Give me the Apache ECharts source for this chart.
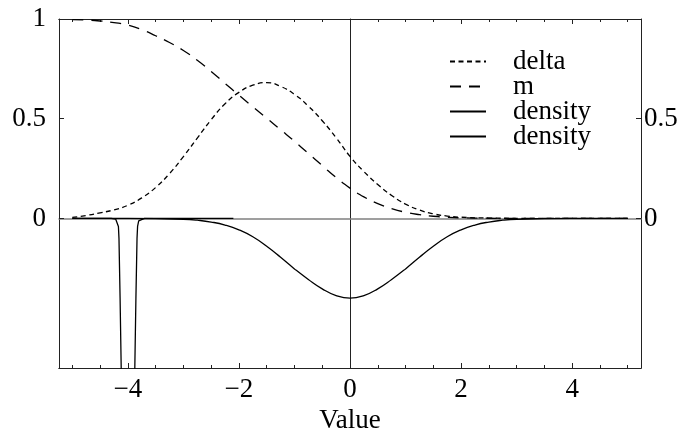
<!DOCTYPE html>
<html>
<head>
	<meta charset="utf-8">
	<title>Value</title>
	<script src="https://cdn.jsdelivr.net/npm/echarts@6/dist/echarts.min.js"></script>
	<style>
		html, body { margin: 0; padding: 0; background: #fff; }
		#main { width: 691px; height: 430px; }
	</style>
</head>
<body>
	<div id="main"></div>
</body>

<script type="text/javascript">
	// values
	var deltaX = [-5, -4.75, -4.5, -4.25, -4, -3.75, -3.5, -3.25, -3, -2.75, -2.5, -2.25, -2, -1.75, -1.5, -1.25, -1, -0.75, -0.5, -0.25, 0, 0.25, 0.5, 0.75, 1, 1.25, 1.5, 1.75, 2, 2.5, 3, 4, 5];
	var deltaY = [0.005, 0.015, 0.028, 0.043, 0.066, 0.103, 0.155, 0.225, 0.31, 0.403, 0.495, 0.575, 0.632, 0.668, 0.681, 0.662, 0.622, 0.563, 0.49, 0.405, 0.311, 0.235, 0.17, 0.115, 0.072, 0.042, 0.023, 0.012, 0.006, 0.002, 0.0005, 0, 0];

	var mX = [-5, -4.75, -4.5, -4.25, -4, -3.75, -3.5, -3.25, -3, -2.75, -2.5, -2.25, -2, -1.75, -1.5, -1.25, -1, -0.75, -0.5, -0.25, 0, 0.25, 0.5, 0.75, 1, 1.25, 1.5, 1.75, 2, 2.5, 3, 5];
	var mY = [0.997, 0.995, 0.99, 0.982, 0.97, 0.947, 0.916, 0.882, 0.842, 0.793, 0.737, 0.677, 0.618, 0.56, 0.503, 0.445, 0.387, 0.326, 0.265, 0.205, 0.152, 0.108, 0.074, 0.049, 0.031, 0.019, 0.011, 0.006, 0.003, 0.001, 0, 0];

	var densX = [-5, -4, -3.5, -3, -2.75, -2.5, -2.25, -2, -1.75, -1.5, -1.25, -1, -0.75, -0.5, -0.25, 0, 0.25, 0.5, 0.75, 1, 1.25, 1.5, 1.75, 2, 2.25, 2.5, 2.75, 3, 3.5, 4, 5];
	var densY = [0, 0, -0.001, -0.004, -0.009, -0.018, -0.033, -0.057, -0.092, -0.14, -0.195, -0.253, -0.306, -0.353, -0.387, -0.4, -0.387, -0.353, -0.306, -0.253, -0.195, -0.14, -0.092, -0.057, -0.033, -0.018, -0.009, -0.004, -0.001, 0, 0];

	var dens2X = [-5, -4.3, -4.22, -4.19, -4.17, -4.16, -4.14, -4.12, -4.11, -4.0, -3.88, -3.875, -3.855, -3.835, -3.825, -3.805, -3.775, -3.7, -2.1];
	var dens2Y = [0, 0, -0.003, -0.012, -0.04, -0.1, -0.4, -0.75, -1.0, -3.0, -1.0, -0.75, -0.4, -0.1, -0.04, -0.012, -0.003, 0, 0];

	var xLabels = [-4, -2, 0, 2, 4];
	var xMinor = [-5, -4.5, -4, -3.5, -3, -2.5, -2, -1.5, -1, -0.5, 0, 0.5, 1, 1.5, 2, 2.5, 3, 3.5, 4, 4.5, 5];
	var yLabelsLeft = [0, 0.5, 1];
	var yLabelsRight = [0, 0.5];

	var FONT = 'Liberation Serif';
	var FSIZE = 27;

	function pairs(xs, ys){
		var out = [];
		for (var i = 0; i < xs.length; i++) {
			out.push([xs[i], ys[i]]);
		}
		return out;
	}

	function fmt(v){
		return v < 0 ? '\u2212' + (-v) : String(v);
	}

	// frame axis helper
	function frameX(pos, ticks, len, labels){
		return {
			type: 'value', position: pos, min: -5.24, max: 5.24,
			axisLine: {show: true, onZero: false, lineStyle: {color: '#222', width: 1}},
			axisTick: {show: true, inside: true, length: len, customValues: ticks, lineStyle: {color: '#222'}},
			axisLabel: labels ? {show: true, customValues: labels, formatter: fmt, margin: 8, color: '#000', fontFamily: FONT, fontSize: FSIZE} : {show: false},
			splitLine: {show: false}
		};
	}

	var xAxes = [
		frameX('bottom', xLabels, 5, xLabels),
		frameX('bottom', xMinor, 3, null),
		frameX('top', xLabels, 5, null),
		frameX('top', xMinor, 3, null),
		// zero line
		{
			type: 'value', position: 'bottom', min: -5.24, max: 5.24,
			axisLine: {show: true, onZero: true, lineStyle: {color: '#808080', width: 1.5}},
			axisTick: {show: false}, axisLabel: {show: false}, splitLine: {show: false}
		}
	];
	xAxes[0].name = 'Value';
	xAxes[0].nameLocation = 'middle';
	xAxes[0].nameGap = 36;
	xAxes[0].nameTextStyle = {color: '#000', fontFamily: FONT, fontSize: FSIZE};

	var yAxes = [
		{
			type: 'value', position: 'left', min: -0.75, max: 1,
			axisLine: {show: true, onZero: false, lineStyle: {color: '#222', width: 1}},
			axisTick: {show: true, inside: true, length: 5, customValues: yLabelsLeft, lineStyle: {color: '#222'}},
			axisLabel: {show: true, customValues: yLabelsLeft, margin: 13, color: '#000', fontFamily: FONT, fontSize: FSIZE},
			splitLine: {show: false}
		},
		{
			type: 'value', position: 'right', min: -0.75, max: 1,
			axisLine: {show: true, onZero: false, lineStyle: {color: '#222', width: 1}},
			axisTick: {show: true, inside: true, length: 5, customValues: yLabelsRight, lineStyle: {color: '#222'}},
			axisLabel: {show: true, customValues: yLabelsRight, margin: 3, color: '#000', fontFamily: FONT, fontSize: FSIZE},
			splitLine: {show: false}
		},
		// x = 0 line
		{
			type: 'value', position: 'left', min: -0.75, max: 1,
			axisLine: {show: true, onZero: true, lineStyle: {color: '#222', width: 1}},
			axisTick: {show: false}, axisLabel: {show: false}, splitLine: {show: false}
		}
	];

	function lineSeries(name, data, dash, smooth){
		return {
			name: name, type: 'line', data: data,
			xAxisIndex: 0, yAxisIndex: 0,
			symbol: 'none', smooth: smooth, clip: true,
			lineStyle: {color: '#000', width: 1.3, type: dash},
			itemStyle: {color: '#000'}
		};
	}

	var option = {
		animation: false,
		backgroundColor: '#fff',
		grid: {left: 59, right: 50, top: 19, bottom: 62, outerBoundsMode: 'none'},
		legend: {
			orient: 'vertical', left: 444, top: 43,
			itemWidth: 36, itemHeight: 25, itemGap: -2,
			data: ['delta', 'm', 'density', 'density '],
			formatter: function(n){ return n.trim(); },
			// hide the marker dot, keep the line sample
			itemStyle: {color: 'rgba(0,0,0,0)', borderColor: 'rgba(0,0,0,0)', borderWidth: 0},
			textStyle: {color: '#000', fontFamily: FONT, fontSize: FSIZE, lineHeight: 25, padding: [0, 0, 0, 22]}
		},
		xAxis: xAxes,
		yAxis: yAxes,
		series: [
			lineSeries('delta', pairs(deltaX, deltaY), [5, 3.5], 0.5),
			lineSeries('m', pairs(mX, mY), [11, 8], 0.5),
			lineSeries('density', pairs(densX, densY), 'solid', 0.5),
			lineSeries('density ', pairs(dens2X, dens2Y), 'solid', false)
		]
	};

	var myChart = echarts.init(document.getElementById('main'));
	myChart.setOption(option);
</script>
</html>
